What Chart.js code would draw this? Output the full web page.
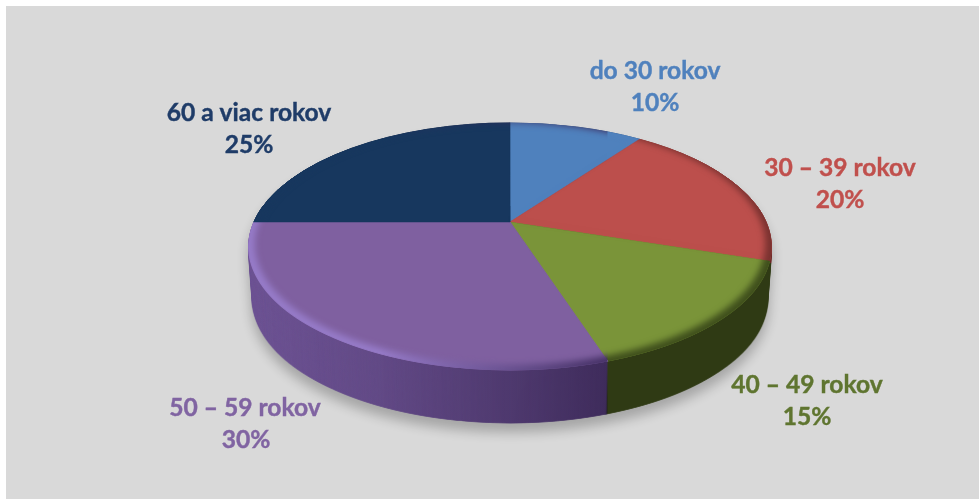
<!DOCTYPE html>
<html lang="sk">
<head>
<meta charset="utf-8">
<title>Vek</title>
<script src="https://cdn.jsdelivr.net/npm/chart.js@4/dist/chart.umd.min.js"></script>
<style>
html,body{margin:0;padding:0;background:#fff;width:979px;height:499px;overflow:hidden}
#bg{position:absolute;left:6px;top:6px;right:0;bottom:0;background:#d9d9d9}
canvas{position:absolute;left:0;top:0}
</style>
</head>
<body>
<div id="bg"></div>
<canvas id="c" width="979" height="499"></canvas>
<script>
const categories = ['do 30 rokov', '30 – 39 rokov', '40 – 49 rokov', '50 – 59 rokov', '60 a viac rokov'];
const values = [10, 20, 15, 30, 25];
const faceColors = ['#4f81bd', '#bc4f4c', '#7a9439', '#7f60a0', '#17375e'];
const wallColors = ['#2c4a70', '#6e2c2a', '#2f3a14', '#6e5494', '#0e2340'];
const rimColors  = ['#4f81bd', '#7a3230', '#3f4f1c', '#967bc8', '#17375e'];
const labelColors = ['#4f81bd', '#c0504d', '#5f7530', '#8064a2', '#1f3c68'];
const labelCenters = [[655, 71], [840, 168], [807, 385], [245, 408], [249, 113]];

// projection of the flat pie onto the tilted perspective plane
const view = { x: 510, y: 222, b: 256, a: 118.7, k: 0.198, depth: 53, taper: 0.015 };

function layer(w, h) {
  const cv = document.createElement('canvas');
  cv.width = w; cv.height = h;
  return cv;
}

function warp(chart, target, colors, s, dy) {
  const els = chart.getDatasetMeta(0).data;
  const R = els[0].outerRadius, cx = els[0].x, cy = els[0].y;
  const ctx = target.getContext('2d');
  for (let Y = 0; Y < target.height; Y++) {
    const Yc = Y + 0.5;
    const Yrel = (Yc - view.y - dy) / s;
    const v = -Yrel / (view.a + view.k * Yrel);
    if (Math.abs(v) > 1.02) continue;
    const w = 1 + view.k * v;
    const A = s * view.b / (R * w);
    const D = s * view.a / (R * w * w);
    const sy = cy - R * v;
    ctx.save();
    ctx.beginPath();
    ctx.rect(0, Y, target.width, 1);
    ctx.clip();
    ctx.setTransform(A, 0, 0, D, view.x - cx * A, Yc - sy * D);
    els.forEach((el, i) => {
      const saved = el.options;
      el.options = Object.assign({}, saved, { backgroundColor: colors[i], borderColor: colors[i] });
      el.draw(ctx);
      el.options = saved;
    });
    ctx.restore();
  }
}

function project(angle) {
  const th = angle + Math.PI / 2;
  const u = Math.sin(th), v = Math.cos(th), w = 1 + view.k * v;
  return { x: view.x + view.b * u / w, y: view.y - view.a * v / w };
}

const pie3d = {
  id: 'pie3d',
  beforeDatasetsDraw(chart) {
    const W = chart.width, H = chart.height, ctx = chart.ctx;
    const els = chart.getDatasetMeta(0).data;
    const frontX = project(els[2].endAngle).x;
    const sideCorner = project(els[1].endAngle);

    // side wall: extrude the projected pie downwards
    const wallFlat = layer(W, H);
    warp(chart, wallFlat, wallColors, 1, 0);
    const wall = layer(W, H);
    const wc = wall.getContext('2d');
    for (let t = view.depth; t >= 0; t--) {
      const sc = 1 - view.taper * t / view.depth;
      wc.drawImage(wallFlat, view.x * (1 - sc), t, W * sc, H);
    }
    wc.globalCompositeOperation = 'source-atop';
    // below the red/green corner the visible wall belongs to the green slice
    wc.fillStyle = wallColors[2];
    wc.fillRect(frontX, sideCorner.y + 2, W - frontX, H);
    const g = wc.createLinearGradient(view.x - view.b, 0, frontX, 0);
    g.addColorStop(0, 'rgba(20,8,40,0)');
    g.addColorStop(0.35, 'rgba(20,8,40,0.12)');
    g.addColorStop(0.75, 'rgba(20,8,40,0.36)');
    g.addColorStop(1, 'rgba(20,8,40,0.52)');
    wc.fillStyle = g;
    wc.fillRect(0, 0, frontX, H);
    wc.globalCompositeOperation = 'source-over';

    // soft ground shadow
    ctx.save();
    ctx.filter = 'blur(6px) brightness(0) opacity(0.24)';
    ctx.drawImage(wall, 0, 9);
    ctx.restore();
    ctx.drawImage(wall, 0, 0);

    // top face
    const face = layer(W, H);
    warp(chart, face, faceColors, 1, 0);
    ctx.drawImage(face, 0, 0);

    // bevel rim: rim colours with a blurred inner disc removed
    const rim = layer(W, H);
    warp(chart, rim, rimColors, 1, 0);
    const inner = layer(W, H);
    warp(chart, inner, faceColors, 0.975, -2);
    const rc = rim.getContext('2d');
    rc.globalCompositeOperation = 'destination-out';
    rc.filter = 'blur(3px)';
    rc.drawImage(inner, 0, 0);
    rc.filter = 'none';
    rc.globalCompositeOperation = 'source-atop';
    const rg = rc.createLinearGradient(view.x - 130, 0, frontX, 0);
    rg.addColorStop(0, 'rgba(60,40,90,0)');
    rg.addColorStop(1, 'rgba(60,40,90,0.9)');
    rc.fillStyle = rg;
    rc.fillRect(view.x - 130, 0, frontX - view.x + 130, H);
    rc.globalCompositeOperation = 'source-over';
    ctx.drawImage(rim, 0, 0);
    return false;
  },
  afterDraw(chart) {
    const ctx = chart.ctx;
    ctx.save();
    ctx.font = 'bold 24.6px Lato';
    ctx.textAlign = 'center';
    ctx.textBaseline = 'middle';
    ctx.lineWidth = 0.4;
    categories.forEach((name, i) => {
      const [x, y] = labelCenters[i];
      ctx.fillStyle = labelColors[i];
      ctx.strokeStyle = labelColors[i];
      ctx.fillText(name, x, y);
      ctx.strokeText(name, x, y);
      const pct = values[i] + '%';
      const px = x + (i === 3 ? 1 : 0);
      ctx.fillText(pct, px, y + 32);
      ctx.strokeText(pct, px, y + 32);
    });
    ctx.restore();
  }
};

new Chart(document.getElementById('c'), {
  type: 'pie',
  data: {
    labels: categories,
    datasets: [{ data: values, backgroundColor: faceColors, borderColor: faceColors, borderWidth: 1 }]
  },
  options: {
    responsive: false,
    animation: false,
    events: [],
    plugins: { legend: { display: false }, tooltip: { enabled: false } }
  },
  plugins: [pie3d]
});
</script>
</body>
</html>
